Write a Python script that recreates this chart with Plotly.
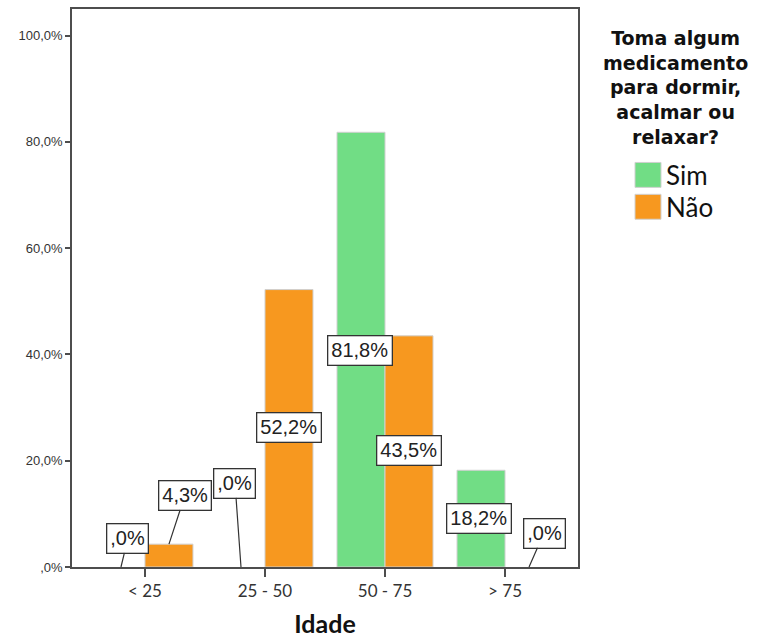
import plotly.graph_objects as go

categories = ["< 25", "25 - 50", "50 - 75", "> 75"]
sim_values = [0.0, 0.0, 81.8, 18.2]
nao_values = [4.3, 52.2, 43.5, 0.0]
y_tick_vals = [0, 20, 40, 60, 80, 100]
y_tick_text = [",0%", "20,0%", "40,0%", "60,0%", "80,0%", "100,0%"]
series_names = ["Sim", "Não"]
legend_title_lines = ["Toma algum", "medicamento", "para dormir,", "acalmar ou", "relaxar?"]
x_title = "Idade"

GREEN = "#71DD85"
ORANGE = "#F7981F"
AXIS = "#4d4d4d"
series_colors = [GREEN, ORANGE]

# plot area geometry (pixels) used for paper-coordinate placement
PL, PR, PT, PB = 72, 578, 7, 567
PW, PH = PR - PL, PB - PT


def px_x(px):
    return (px - PL) / PW


def px_y(py):
    return (PB - py) / PH


def fmt(v):
    s = f"{v:.1f}".replace(".", ",")
    if s.startswith("0,"):
        s = s[1:]
    return s + "%"


fig = go.Figure()
for name, vals, col in zip(series_names, [sim_values, nao_values], series_colors):
    fig.add_trace(go.Bar(
        x=categories, y=vals, name=name, showlegend=False,
        marker=dict(color=col, line=dict(color="#d0d0d0",
                                         width=[0 if v == 0 else 1 for v in vals])),
    ))

# label offsets (pixels): (series index, category index, ax, ay, line visible)
label_layout = [
    (0, 0, 7, -29, True),
    (1, 0, 16, -49, True),
    (0, 1, -6, -84, True),
    (1, 1, 0, 138, False),
    (0, 2, -1, 218, False),
    (1, 2, 0, 115, False),
    (0, 3, -2, 48, False),
    (1, 3, 15, -34, True),
]
series_vals = [sim_values, nao_values]
for s, c, ax, ay, line in label_layout:
    v = series_vals[s][c]
    fig.add_annotation(
        x=categories[c], y=v, xref="x", yref="y",
        xshift=-24 if s == 0 else 24,
        text=fmt(v), showarrow=True, arrowhead=0, arrowwidth=1.2,
        arrowcolor="#333333" if line else "rgba(0,0,0,0)",
        ax=ax, ay=ay, axref="pixel", ayref="pixel",
        bgcolor="white", bordercolor="#333333", borderwidth=1.3, borderpad=3,
        font=dict(family="Liberation Sans, Arial, sans-serif", size=20, color="#222222"),
    )

# legend title (centered multi-line)
fig.add_annotation(
    x=px_x(675), y=px_y(86), xref="paper", yref="paper",
    xanchor="center", yanchor="middle", align="center",
    text="<b>" + "<br>".join(legend_title_lines) + "</b>", showarrow=False,
    font=dict(family="DejaVu Sans, sans-serif", size=19, color="#111111"),
)

# legend entries
legend_tops = [161, 193]
for name, col, top in zip(series_names, series_colors, legend_tops):
    fig.add_shape(type="rect", xref="paper", yref="paper",
                  x0=px_x(635), x1=px_x(661), y0=px_y(top + 25), y1=px_y(top),
                  fillcolor=col, line=dict(color="#d0d0d0", width=1))
    fig.add_annotation(
        x=px_x(664), y=px_y(top + 12.5), xref="paper", yref="paper",
        xanchor="left", yanchor="middle", text=name, showarrow=False,
        font=dict(family="Lato, sans-serif", size=26, color="#111111"),
    )

fig.update_layout(
    width=763, height=643,
    margin=dict(l=PL, r=763 - PR, t=PT, b=643 - PB),
    paper_bgcolor="white", plot_bgcolor="white",
    barmode="group", bargap=0.2, bargroupgap=0,
    showlegend=False,
    xaxis=dict(
        range=[-0.608, 3.608], showline=True, linecolor=AXIS, linewidth=1.5, mirror=True,
        ticks="outside", ticklen=8, tickcolor=AXIS, tickwidth=1.5,
        tickfont=dict(family="Lato, sans-serif", size=17, color="#333333"),
        title=dict(text=f"<b>{x_title}</b>", font=dict(family="Lato, sans-serif", size=25, color="#111111"), standoff=15),
        showgrid=False, zeroline=False,
    ),
    yaxis=dict(
        range=[0, 105], showline=True, linecolor=AXIS, linewidth=1.5, mirror=True,
        tickvals=y_tick_vals, ticktext=y_tick_text,
        ticks="outside", ticklen=5, tickcolor=AXIS, tickwidth=1.5,
        tickfont=dict(family="Liberation Sans, Arial, sans-serif", size=13, color="#333333"),
        showgrid=False, zeroline=False,
    ),
)

fig.write_html("out.html")
